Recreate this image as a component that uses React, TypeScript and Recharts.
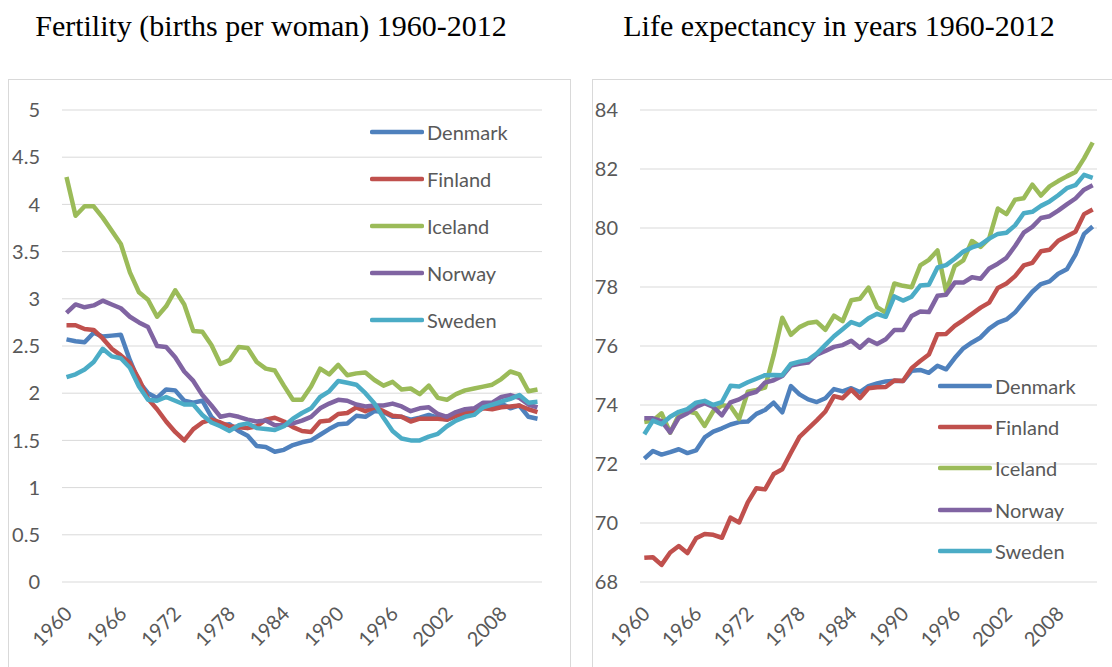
import { LineChart, Line, XAxis, YAxis, CartesianGrid, Legend } from "recharts";

const years = [
  1960, 1961, 1962, 1963, 1964, 1965, 1966, 1967, 1968, 1969,
  1970, 1971, 1972, 1973, 1974, 1975, 1976, 1977, 1978, 1979,
  1980, 1981, 1982, 1983, 1984, 1985, 1986, 1987, 1988, 1989,
  1990, 1991, 1992, 1993, 1994, 1995, 1996, 1997, 1998, 1999,
  2000, 2001, 2002, 2003, 2004, 2005, 2006, 2007, 2008, 2009,
  2010, 2011, 2012,
];

const countries = ["Denmark", "Finland", "Iceland", "Norway", "Sweden"];
const colors = ["#4F81BD", "#C0504D", "#9BBB59", "#8064A2", "#4BACC6"];

// fertility, births per woman
const fertDenmark = [
  2.57, 2.55, 2.54, 2.64, 2.6, 2.61, 2.62, 2.35, 2.12, 2.0,
  1.95, 2.04, 2.03, 1.92, 1.9, 1.92, 1.75, 1.66, 1.67, 1.6,
  1.55, 1.44, 1.43, 1.38, 1.4, 1.45, 1.48, 1.5, 1.56, 1.62,
  1.67, 1.68, 1.76, 1.75, 1.81, 1.8, 1.75, 1.75, 1.72, 1.74,
  1.77, 1.74, 1.72, 1.76, 1.78, 1.8, 1.85, 1.84, 1.89, 1.84,
  1.87, 1.75, 1.73,
];
const fertFinland = [
  2.72, 2.72, 2.68, 2.67, 2.58, 2.47, 2.4, 2.32, 2.15, 1.94,
  1.83, 1.7, 1.59, 1.5, 1.62, 1.69, 1.72, 1.69, 1.65, 1.64,
  1.63, 1.65, 1.72, 1.74, 1.7, 1.64, 1.6, 1.59, 1.7, 1.71,
  1.78, 1.79, 1.85, 1.81, 1.85, 1.81, 1.76, 1.75, 1.7, 1.73,
  1.73, 1.73, 1.72, 1.76, 1.8, 1.8, 1.84, 1.83, 1.85, 1.86,
  1.87, 1.83, 1.8,
];
const fertIceland = [
  4.29, 3.88, 3.98, 3.98, 3.86, 3.72, 3.58, 3.28, 3.07, 2.99,
  2.81, 2.92, 3.09, 2.94, 2.66, 2.65, 2.51, 2.31, 2.35, 2.49,
  2.48, 2.33, 2.26, 2.24, 2.08, 1.93, 1.93, 2.07, 2.26, 2.2,
  2.3, 2.19, 2.21, 2.22, 2.14, 2.08, 2.12, 2.04, 2.05, 1.99,
  2.08, 1.95, 1.93, 1.99, 2.03, 2.05, 2.07, 2.09, 2.15, 2.23,
  2.2, 2.02, 2.04,
];
const fertNorway = [
  2.85, 2.94, 2.91, 2.93, 2.98, 2.94, 2.9, 2.81, 2.75, 2.7,
  2.5, 2.49, 2.38, 2.23, 2.13, 1.98, 1.87, 1.75, 1.77, 1.75,
  1.72, 1.7, 1.71, 1.66, 1.66, 1.68, 1.71, 1.75, 1.84, 1.89,
  1.93, 1.92, 1.88, 1.86, 1.87, 1.87, 1.89, 1.86, 1.81, 1.84,
  1.85, 1.78, 1.75, 1.8, 1.83, 1.84, 1.9, 1.9, 1.96, 1.98,
  1.95, 1.88, 1.85,
];
const fertSweden = [
  2.17, 2.2, 2.25, 2.33, 2.47, 2.39, 2.37, 2.27, 2.07, 1.93,
  1.92, 1.96, 1.92, 1.88, 1.88, 1.77, 1.69, 1.65, 1.6, 1.66,
  1.68, 1.63, 1.62, 1.61, 1.65, 1.73, 1.79, 1.84, 1.96, 2.02,
  2.13, 2.11, 2.09, 2.0, 1.89, 1.74, 1.6, 1.52, 1.5, 1.5,
  1.54, 1.57, 1.65, 1.71, 1.75, 1.77, 1.85, 1.88, 1.91, 1.94,
  1.98, 1.9, 1.91,
];

// life expectancy, years
const lifeDenmark = [
  72.18, 72.44, 72.32, 72.4, 72.5, 72.37, 72.46, 72.9, 73.1, 73.21,
  73.34, 73.42, 73.44, 73.7, 73.83, 74.08, 73.75, 74.64, 74.36, 74.19,
  74.1, 74.23, 74.54, 74.46, 74.57, 74.44, 74.64, 74.73, 74.8, 74.82,
  74.81, 75.16, 75.19, 75.09, 75.33, 75.21, 75.59, 75.92, 76.12, 76.29,
  76.59, 76.79, 76.9, 77.14, 77.49, 77.84, 78.1, 78.19, 78.45, 78.6,
  79.1, 79.8, 80.05,
];
const lifeFinland = [
  68.82, 68.84, 68.58, 69.0, 69.22, 68.98, 69.48, 69.63, 69.6, 69.5,
  70.18, 70.02, 70.7, 71.18, 71.14, 71.66, 71.82, 72.38, 72.92, 73.2,
  73.48, 73.78, 74.3, 74.23, 74.52, 74.23, 74.57, 74.6, 74.61, 74.83,
  74.81, 75.25, 75.49, 75.71, 76.4, 76.41, 76.68, 76.88, 77.09, 77.3,
  77.47, 77.97, 78.12, 78.37, 78.73, 78.82, 79.21, 79.26, 79.57, 79.72,
  79.87, 80.47, 80.63,
];
const lifeIceland = [
  73.42, 73.47, 73.72, 73.06, 73.66, 73.79, 73.72, 73.29, 73.79, 73.99,
  73.96, 73.53, 74.45, 74.51, 74.59, 75.69, 76.96, 76.38, 76.64, 76.78,
  76.82, 76.55, 77.03, 76.84, 77.55, 77.6, 77.98, 77.32, 77.13, 78.12,
  78.04, 77.99, 78.73, 78.92, 79.24, 77.85, 78.71, 78.9, 79.56, 79.36,
  79.65, 80.66, 80.47, 80.96, 81.01, 81.47, 81.1, 81.41, 81.59, 81.75,
  81.9, 82.36, 82.9,
];
const lifeNorway = [
  73.55, 73.55, 73.45, 73.07, 73.57, 73.72, 73.93, 74.06, 73.93, 73.65,
  74.09, 74.19, 74.36, 74.45, 74.76, 74.84, 74.98, 75.34, 75.4, 75.44,
  75.71, 75.83, 75.97, 76.03, 76.18, 75.94, 76.21, 76.07, 76.23, 76.54,
  76.54, 77.02, 77.17, 77.15, 77.7, 77.74, 78.15, 78.15, 78.33, 78.28,
  78.63, 78.79, 78.99, 79.39, 79.84, 80.04, 80.34, 80.4, 80.59, 80.8,
  81.0, 81.3, 81.45,
];
const lifeSweden = [
  73.01, 73.47, 73.35, 73.6, 73.77, 73.86, 74.08, 74.14, 74.0, 74.1,
  74.65, 74.63, 74.77, 74.89, 75.01, 75.02, 75.01, 75.39, 75.47, 75.53,
  75.74, 76.04, 76.33, 76.57, 76.81, 76.71, 76.94, 77.09, 76.99, 77.68,
  77.54, 77.67, 78.05, 78.08, 78.66, 78.74, 78.96, 79.2, 79.34, 79.44,
  79.64, 79.8, 79.84, 80.09, 80.5, 80.55, 80.75, 80.9, 81.11, 81.35,
  81.45, 81.8, 81.7,
];

const fertTicks = [0, 0.5, 1, 1.5, 2, 2.5, 3, 3.5, 4, 4.5, 5];
const lifeTicks = [68, 70, 72, 74, 76, 78, 80, 82, 84];

const build = (series: number[][]) =>
  years.map((year, i) => {
    const row: Record<string, number> = { year };
    countries.forEach((c, j) => (row[c] = series[j][i]));
    return row;
  });

const fertData = build([fertDenmark, fertFinland, fertIceland, fertNorway, fertSweden]);
const lifeData = build([lifeDenmark, lifeFinland, lifeIceland, lifeNorway, lifeSweden]);

const labelFont = "Lato, 'Open Sans', sans-serif";
const gray = "#595959";

const YearTick = (props: any) => {
  const { x, y, payload } = props;
  return (
    <text
      transform={`translate(${x + 7},${y + 33}) rotate(-45)`}
      textAnchor="end"
      fill={gray}
      fontSize={20}
      fontFamily={labelFont}
    >
      {payload.value}
    </text>
  );
};

const makeLegend = (rowH: number) => (props: any) => (
  <div style={{ fontFamily: labelFont, fontSize: 20, color: gray }}>
    {(props.payload || []).map((p: any) => (
      <div key={p.value} style={{ height: rowH, display: "flex", alignItems: "center" }}>
        <svg width={54} height={8} style={{ marginRight: 3 }}>
          <line x1={2} y1={4} x2={52} y2={4} stroke={p.color} strokeWidth={4.5} strokeLinecap="round" />
        </svg>
        <span>{p.value}</span>
      </div>
    ))}
  </div>
);

const Panel = (p: {
  data: any[];
  width: number;
  yWidth: number;
  right: number;
  domain: [number, number];
  ticks: number[];
  pad: number;
  legendLeft: number;
  legendTop: number;
  rowH: number;
}) => (
  <LineChart
    width={p.width}
    height={587}
    data={p.data}
    margin={{ top: 30, right: p.right, left: 0, bottom: 0 }}
  >
    <CartesianGrid stroke="#D9D9D9" vertical={false} />
    <XAxis
      dataKey="year"
      height={85}
      interval={5}
      tickLine={false}
      axisLine={false}
      tickSize={0}
      tickMargin={0}
      padding={{ left: p.pad, right: p.pad }}
      tick={<YearTick />}
    />
    <YAxis
      width={p.yWidth}
      domain={p.domain}
      ticks={p.ticks}
      tickLine={false}
      axisLine={false}
      tickSize={0}
      tickMargin={22}
      tick={{ fill: gray, fontSize: 20, fontFamily: labelFont }}
    />
    <Legend
      layout="vertical"
      align="center"
      verticalAlign="middle"
      wrapperStyle={{ left: p.legendLeft, top: p.legendTop, width: 200 }}
      content={makeLegend(p.rowH)}
    />
    {countries.map((c, i) => (
      <Line
        key={c}
        dataKey={c}
        stroke={colors[i]}
        strokeWidth={4.5}
        dot={false}
        activeDot={false}
        strokeLinejoin="round"
        isAnimationActive={false}
      />
    ))}
  </LineChart>
);

const titleStyle: React.CSSProperties = {
  position: "absolute",
  top: 9,
  fontFamily: "'Liberation Serif', 'Times New Roman', serif",
  fontSize: 30,
  color: "#000",
  whiteSpace: "nowrap",
  transform: "translateX(-50%)",
};

export default function App() {
  return (
    <div
      style={{
        position: "absolute",
        left: 0,
        top: 0,
        width: 1112,
        height: 667,
        background: "#fff",
        overflow: "hidden",
      }}
    >
      <div style={{ ...titleStyle, left: 271 }}>Fertility (births per woman) 1960-2012</div>
      <div style={{ ...titleStyle, left: 839 }}>Life expectancy in years 1960-2012</div>

      <div
        style={{
          position: "absolute",
          left: 8,
          top: 79,
          width: 563,
          height: 620,
          border: "1px solid #D9D9D9",
          boxSizing: "border-box",
        }}
      />
      <div
        style={{
          position: "absolute",
          left: 592,
          top: 79,
          width: 560,
          height: 620,
          border: "1px solid #D9D9D9",
          boxSizing: "border-box",
        }}
      />

      <div style={{ position: "absolute", left: 9, top: 80 }}>
        <Panel
          data={fertData}
          width={562}
          yWidth={53}
          right={29}
          domain={[0, 5]}
          ticks={fertTicks}
          pad={4.5}
          legendLeft={361}
          legendTop={28}
          rowH={47}
        />
      </div>
      <div style={{ position: "absolute", left: 593, top: 80 }}>
        <Panel
          data={lifeData}
          width={519}
          yWidth={47}
          right={15}
          domain={[68, 84]}
          ticks={lifeTicks}
          pad={4.3}
          legendLeft={345}
          legendTop={285}
          rowH={41.3}
        />
      </div>
    </div>
  );
}
